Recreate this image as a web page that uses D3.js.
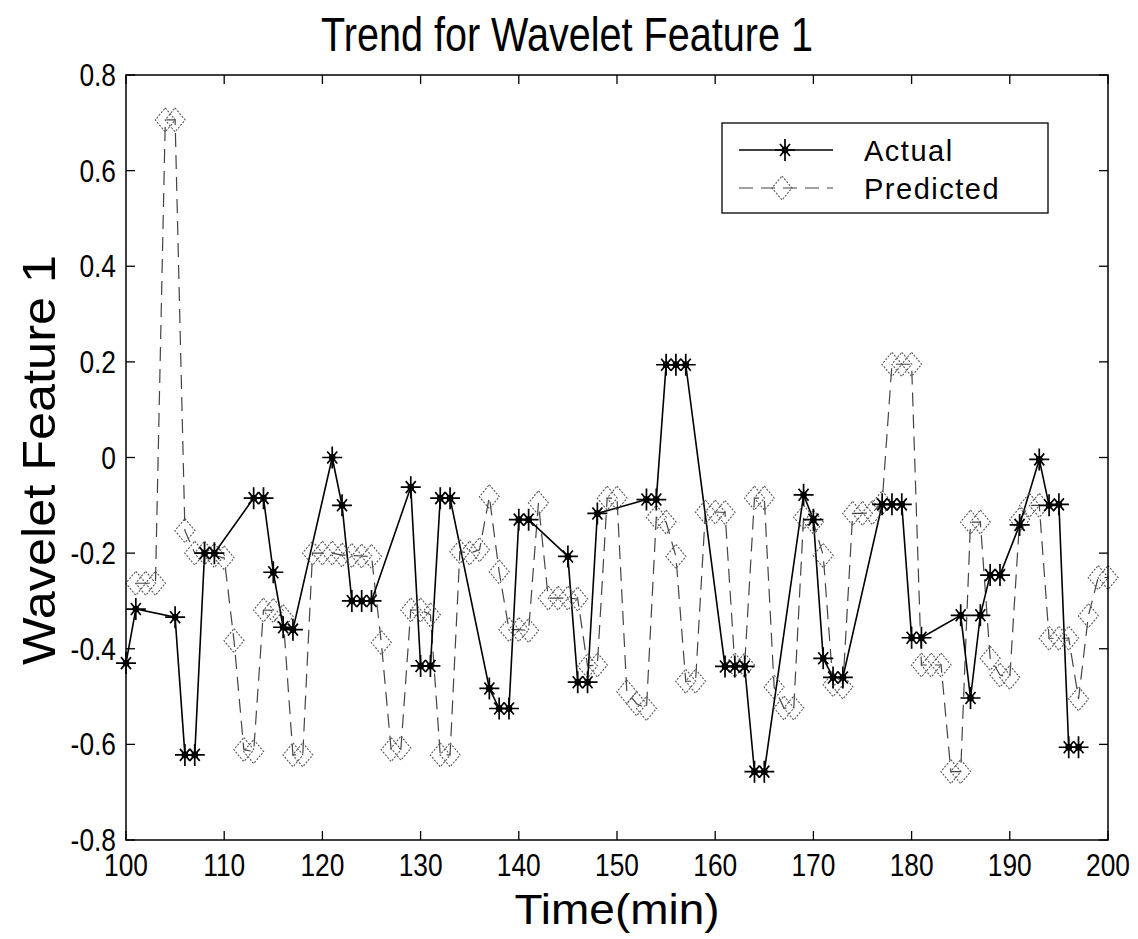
<!DOCTYPE html>
<meta charset="utf-8" />
<script src="https://d3js.org/d3.v7.js"></script>
<style>
  body { margin: 0; background: #fff; }
  text { font-family: "Liberation Sans", Arial, sans-serif; fill: #000; }
</style>
<div id="my_dataviz"></div>

<script>
  // Actual (solid line, star markers)
  const actualTime = [100, 101, 105, 106, 107, 108, 109, 113, 114, 115, 116, 117, 121, 122, 123, 124, 125,
    129, 130, 131, 132, 133, 137, 138, 139, 140, 141, 145, 146, 147, 148, 153, 154, 155, 156, 157,
    161, 162, 163, 164, 165, 169, 170, 171, 172, 173, 177, 178, 179, 180, 181, 185, 186, 187, 188,
    189, 191, 193, 194, 195, 196, 197];
  const actualValue = [-0.43, -0.317, -0.334, -0.622, -0.622, -0.2, -0.2, -0.085, -0.085, -0.24, -0.355, -0.36,
    0.0, -0.1, -0.3, -0.3, -0.3, -0.062, -0.436, -0.436, -0.085, -0.085, -0.483, -0.525, -0.525, -0.13, -0.13,
    -0.207, -0.47, -0.47, -0.117, -0.088, -0.088, 0.194, 0.194, 0.194, -0.437, -0.437, -0.437, -0.657, -0.657,
    -0.078, -0.13, -0.42, -0.46, -0.46, -0.098, -0.098, -0.098, -0.377, -0.377, -0.33, -0.503, -0.33, -0.246,
    -0.246, -0.141, -0.004, -0.1, -0.098, -0.606, -0.606];

  // Predicted (dashed line, diamond markers), one value per minute from 101 to 200
  const predictedTime = d3.range(101, 201);
  const predictedValue = [-0.263, -0.263, -0.263, 0.706, 0.706, -0.153, -0.2, -0.2, -0.205, -0.21,
    -0.383, -0.611, -0.615, -0.319, -0.32, -0.333, -0.622, -0.622, -0.2, -0.2,
    -0.2, -0.204, -0.205, -0.206, -0.207, -0.387, -0.611, -0.608, -0.319, -0.319,
    -0.329, -0.622, -0.622, -0.197, -0.2, -0.193, -0.082, -0.239, -0.36, -0.36,
    -0.362, -0.095, -0.294, -0.294, -0.294, -0.296, -0.436, -0.434, -0.085, -0.085,
    -0.49, -0.515, -0.525, -0.125, -0.135, -0.207, -0.468, -0.468, -0.114, -0.114,
    -0.115, -0.434, -0.434, -0.085, -0.085, -0.48, -0.524, -0.524, -0.125, -0.135,
    -0.205, -0.475, -0.48, -0.117, -0.117, -0.115, -0.095, 0.195, 0.195, 0.195,
    -0.434, -0.434, -0.434, -0.657, -0.657, -0.135, -0.135, -0.42, -0.455, -0.46,
    -0.13, -0.1, -0.1, -0.378, -0.378, -0.378, -0.505, -0.331, -0.251, -0.251];

  const xTicks = [100, 110, 120, 130, 140, 150, 160, 170, 180, 190, 200];
  const yTicks = [-0.8, -0.6, -0.4, -0.2, 0, 0.2, 0.4, 0.6, 0.8];
  const seriesNames = ["Actual", "Predicted"];

  const width = 1138,
    height = 939,
    margin = { top: 75, right: 30, bottom: 99, left: 126 };

  const svg = d3
    .select("#my_dataviz")
    .append("svg")
    .attr("width", width)
    .attr("height", height);

  const x = d3.scaleLinear().domain([100, 200]).range([margin.left, width - margin.right]);
  const y = d3.scaleLinear().domain([-0.8, 0.8]).range([height - margin.bottom, margin.top]);

  const actual = actualTime.map((t, i) => ({ t: t, v: actualValue[i] }));
  const predicted = predictedTime.map((t, i) => ({ t: t, v: predictedValue[i] }));

  // clip for the lines only (markers can sit on the frame)
  svg.append("clipPath").attr("id", "plotclip")
    .append("rect")
    .attr("x", x(100)).attr("y", y(0.8))
    .attr("width", x(200) - x(100)).attr("height", y(-0.8) - y(0.8));

  const tickLen = 9;
  const axes = svg.append("g").attr("stroke", "#000").attr("stroke-width", 1.3);
  xTicks.forEach(function (t) {
    axes.append("line").attr("x1", x(t)).attr("x2", x(t)).attr("y1", y(-0.8)).attr("y2", y(-0.8) - tickLen);
    axes.append("line").attr("x1", x(t)).attr("x2", x(t)).attr("y1", y(0.8)).attr("y2", y(0.8) + tickLen);
  });
  yTicks.forEach(function (t) {
    axes.append("line").attr("x1", x(100)).attr("x2", x(100) + tickLen).attr("y1", y(t)).attr("y2", y(t));
    axes.append("line").attr("x1", x(200)).attr("x2", x(200) - tickLen).attr("y1", y(t)).attr("y2", y(t));
  });

  // tick labels
  svg.append("g")
    .selectAll("text")
    .data(xTicks)
    .join("text")
    .attr("transform", (d) => `translate(${x(d)},${y(-0.8) + 36}) scale(0.85,1)`)
    .attr("text-anchor", "middle")
    .style("font-size", "31px")
    .text((d) => d);

  svg.append("g")
    .selectAll("text")
    .data(yTicks)
    .join("text")
    .attr("transform", (d) => `translate(${x(100) - 10},${y(d) + 11}) scale(0.85,1)`)
    .attr("text-anchor", "end")
    .style("font-size", "31px")
    .text((d) => (d === 0 ? "0" : d.toFixed(1)));

  // lines
  const line = d3.line().x((d) => x(d.t)).y((d) => y(d.v));

  svg.append("path")
    .datum(predicted)
    .attr("clip-path", "url(#plotclip)")
    .attr("fill", "none")
    .attr("stroke", "#444")
    .attr("stroke-width", 1.2)
    .attr("stroke-dasharray", "14,8")
    .attr("d", line);

  svg.append("path")
    .datum(actual)
    .attr("clip-path", "url(#plotclip)")
    .attr("fill", "none")
    .attr("stroke", "#000")
    .attr("stroke-width", 1.6)
    .attr("d", line);

  // markers
  const diamond = "M0,-12L10,0L0,12L-10,0Z";
  const star = "M-10,0H10M0,-11V11M-5,-6L5,6M-5,6L5,-6";

  function drawDiamond(g) {
    g.append("path").attr("d", diamond)
      .attr("fill", "none").attr("stroke", "#555").attr("stroke-width", 1.1)
      .attr("stroke-dasharray", "2,1.5");
  }
  function drawStar(g) {
    g.append("path").attr("d", star).attr("stroke", "#000").attr("stroke-width", 1.7);
    g.append("circle").attr("r", 3.4).attr("fill", "#000");
  }

  svg.append("g")
    .selectAll("g")
    .data(predicted)
    .join("g")
    .attr("transform", (d) => `translate(${x(d.t)},${y(d.v)})`)
    .each(function () { drawDiamond(d3.select(this)); });

  svg.append("g")
    .selectAll("g")
    .data(actual)
    .join("g")
    .attr("transform", (d) => `translate(${x(d.t)},${y(d.v)})`)
    .each(function () { drawStar(d3.select(this)); });

  // frame
  svg.append("rect")
    .attr("x", x(100)).attr("y", y(0.8))
    .attr("width", x(200) - x(100)).attr("height", y(-0.8) - y(0.8))
    .attr("fill", "none").attr("stroke", "#000").attr("stroke-width", 1.5);

  // legend
  const legend = svg.append("g");
  legend.append("rect")
    .attr("x", 722).attr("y", 123).attr("width", 326).attr("height", 90)
    .attr("fill", "#fff").attr("stroke", "#000").attr("stroke-width", 1.3);

  const rowY = [150, 188];
  legend.append("line").attr("x1", 739).attr("x2", 833).attr("y1", rowY[0]).attr("y2", rowY[0])
    .attr("stroke", "#000").attr("stroke-width", 1.6);
  legend.append("line").attr("x1", 739).attr("x2", 833).attr("y1", rowY[1]).attr("y2", rowY[1])
    .attr("stroke", "#444").attr("stroke-width", 1.2).attr("stroke-dasharray", "14,8");
  drawStar(legend.append("g").attr("transform", `translate(785,${rowY[0]})`));
  drawDiamond(legend.append("g").attr("transform", `translate(782,${rowY[1]})`));

  legend.selectAll("text.leg")
    .data(seriesNames)
    .join("text")
    .attr("class", "leg")
    .attr("x", 864)
    .attr("y", (d, i) => rowY[i] + 11)
    .style("font-size", "29px")
    .style("letter-spacing", "1.5px")
    .text((d) => d);

  // titles
  svg.append("text")
    .attr("x", 567).attr("y", 51)
    .attr("text-anchor", "middle")
    .attr("textLength", 492).attr("lengthAdjust", "spacingAndGlyphs")
    .style("font-size", "48px")
    .text("Trend for Wavelet Feature 1");

  svg.append("text")
    .attr("x", 617).attr("y", 924)
    .attr("text-anchor", "middle")
    .attr("textLength", 205).attr("lengthAdjust", "spacingAndGlyphs")
    .style("font-size", "42px")
    .text("Time(min)");

  svg.append("text")
    .attr("transform", "translate(55,460) rotate(-90)")
    .attr("text-anchor", "middle")
    .attr("textLength", 410).attr("lengthAdjust", "spacingAndGlyphs")
    .style("font-size", "46px")
    .text("Wavelet Feature 1");
</script>
